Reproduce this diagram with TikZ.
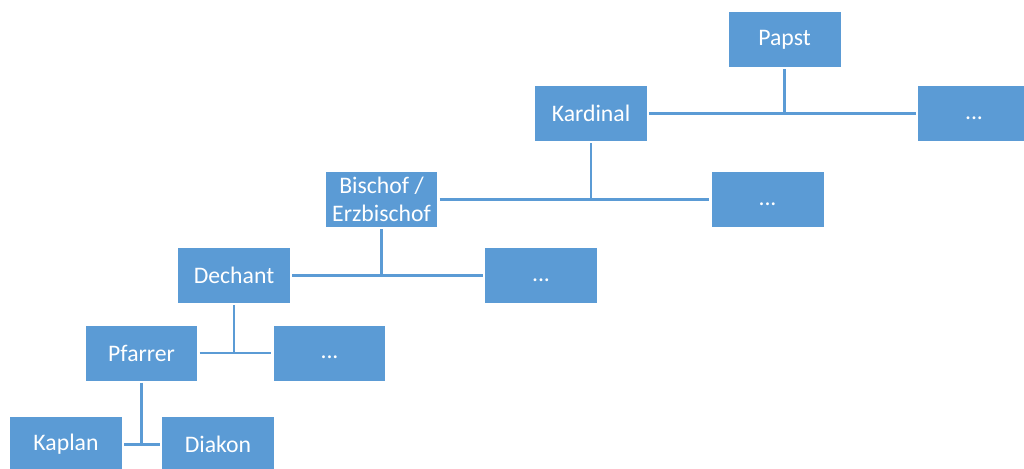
\documentclass[tikz,border=0pt]{standalone}
\usepackage{fontspec}
\setmainfont{Carlito}
\definecolor{boxblue}{HTML}{5B9BD5}
\begin{document}
\begin{tikzpicture}[x=0.02cm,y=-0.02cm,every node/.style={rectangle,fill=boxblue,text=white,minimum width=2.24cm,minimum height=1.1cm,inner sep=1pt,outer sep=1.2pt,align=center,font=\fontsize{13.5}{16}\selectfont},link/.style={draw=boxblue,line width=1.2pt}]
			\useasboundingbox (0,0) rectangle (1024,468);
			\clip (0,0) rectangle (1024,468);
			%hierarchy nodes
			\node (papst) at (784.5,39.5) {Papst};
			\node (kardinal) at (591,113.5) {Kardinal};
			\node (bischof) at (381.5,199.5) {Bischof /\\Erzbischof};
			\node (dechant) at (234,275.5) {Dechant};
			\node (pfarrer) at (141.5,353) {Pfarrer};
			\node (kaplan) at (66,444.5) {Kaplan};
			\node (diakon) at (218,444.5) {Diakon};

			%other nodes
			\node (dotsa) at (974,113.5) {\strut...};
			\node (dotsb) at (767.5,199.5) {\strut...};
			\node (dotsc) at (541,275.5) {\strut...};
			\node (dotsd) at (329.5,353) {\strut...};

			%edges
			\draw[link] (papst) -- (papst |- kardinal);
			\draw[link] (kardinal) -- (dotsa);
			\draw[link] (kardinal) -- (kardinal |- bischof);
			\draw[link] (bischof) -- (dotsb);
			\draw[link] (bischof) -- (bischof |- dechant);
			\draw[link] (dechant) -- (dotsc);
			\draw[link] (dechant) -- (dechant |- pfarrer);
			\draw[link] (pfarrer) -- (dotsd);
			\draw[link] (pfarrer) -- (pfarrer |- kaplan);
			\draw[link] (kaplan) -- (diakon);
		\end{tikzpicture}
\end{document}
